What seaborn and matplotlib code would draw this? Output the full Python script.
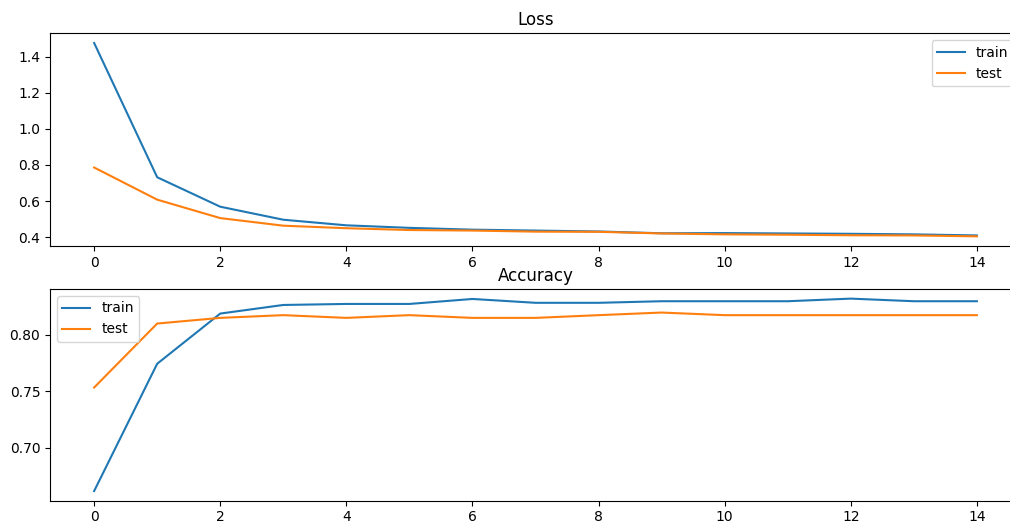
import matplotlib
matplotlib.use('Agg')
import matplotlib.pyplot as plt
import seaborn as sns

# values
epochs = list(range(15))
train_loss = [1.475, 0.732, 0.569, 0.497, 0.466, 0.452, 0.442, 0.437, 0.432, 0.422,
              0.423, 0.421, 0.419, 0.416, 0.410]
test_loss = [0.786, 0.608, 0.506, 0.464, 0.450, 0.440, 0.437, 0.431, 0.430, 0.421,
             0.416, 0.414, 0.411, 0.410, 0.405]
train_acc = [0.6618, 0.7742, 0.8185, 0.8261, 0.8270, 0.8270, 0.8314, 0.8280, 0.8280,
             0.8294, 0.8294, 0.8294, 0.8317, 0.8294, 0.8294]
test_acc = [0.7532, 0.8097, 0.8147, 0.8171, 0.8147, 0.8171, 0.8147, 0.8147, 0.8171,
            0.8194, 0.8171, 0.8171, 0.8171, 0.8171, 0.8171]

fig = plt.figure(figsize=(10.10, 5.21), dpi=100)
# axes run past the right edge, like the cropped original
ax1 = fig.add_axes([0.0495, 0.5278, 0.9614, 0.4083])
ax2 = fig.add_axes([0.0495, 0.0390, 0.9614, 0.4063])

sns.lineplot(x=epochs, y=train_loss, label='train', ax=ax1)
sns.lineplot(x=epochs, y=test_loss, label='test', ax=ax1)
ax1.set_title('Loss')
ax1.legend(loc='upper right')

sns.lineplot(x=epochs, y=train_acc, label='train', ax=ax2)
sns.lineplot(x=epochs, y=test_acc, label='test', ax=ax2)
ax2.set_title('Accuracy')
ax2.legend(loc='upper left')

for ax in (ax1, ax2):
    ax.set_xticks(range(0, 15, 2))

fig.savefig('out.png', dpi=100)
